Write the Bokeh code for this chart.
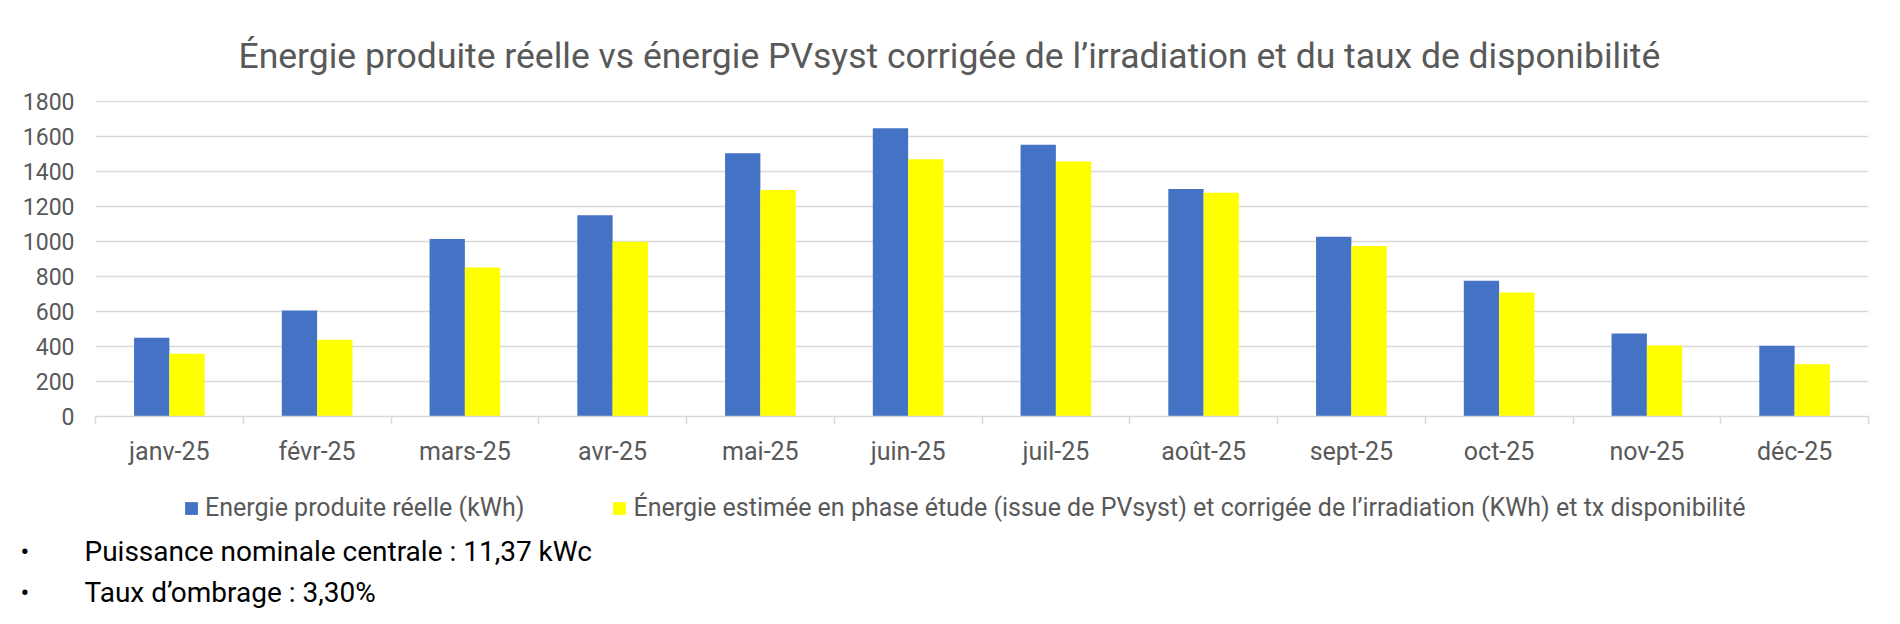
from bokeh.plotting import figure
from bokeh.layouts import column
from bokeh.models import (Range1d, FixedTicker, Legend, LegendItem, Title, Label,
                          ColumnDataSource)
from bokeh.transform import dodge
from bokeh.embed import file_html
from bokeh.resources import INLINE

months = ["janv-25", "févr-25", "mars-25", "avr-25", "mai-25", "juin-25",
          "juil-25", "août-25", "sept-25", "oct-25", "nov-25", "déc-25"]
reelle = [450, 606, 1014, 1150, 1504, 1647, 1553, 1300, 1028, 776, 474, 404]
estimee = [359, 438, 852, 999, 1294, 1470, 1458, 1279, 975, 708, 406, 298]
y_ticks = [0, 200, 400, 600, 800, 1000, 1200, 1400, 1600, 1800]

title_text = "Énergie produite réelle vs énergie PVsyst corrigée de l’irradiation et du taux de disponibilité"
label_reelle = "Energie produite réelle (kWh)"
label_estimee = "Énergie estimée en phase étude (issue de PVsyst) et corrigée de l’irradiation (KWh) et tx disponibilité"
notes = ["Puissance nominale centrale : 11,37 kWc", "Taux d’ombrage : 3,30%"]

FONT = "Roboto"
GREY = "#595959"
GRID = "#D9D9D9"
BLUE = "#4472C4"
YELLOW = "#FFFF00"

n = len(months)
centers = [i + 0.5 for i in range(n)]
bounds = list(range(n + 1))
src = ColumnDataSource(dict(pos=centers, month=months, reelle=reelle, estimee=estimee))

# ---------------- main chart ----------------
H1 = 468
p = figure(width=1884, height=H1, x_range=Range1d(0, n), y_range=Range1d(0, 1806),
           output_backend="svg", toolbar_location=None,
           min_border_left=95, min_border_right=16, min_border_top=100, min_border_bottom=50)
p.outline_line_color = None
p.background_fill_color = "white"
p.border_fill_color = "white"
p.xgrid.grid_line_color = None
p.ygrid.grid_line_color = GRID
p.ygrid.grid_line_width = 1.5
p.ygrid.ticker = FixedTicker(ticks=y_ticks)

yax = p.yaxis[0]
yax.ticker = FixedTicker(ticks=y_ticks)
yax.axis_line_color = None
yax.major_tick_line_color = None
yax.minor_tick_line_color = None
yax.major_tick_out = 0
yax.major_tick_in = 0
yax.major_label_standoff = 21
yax.major_label_text_font = FONT
yax.major_label_text_font_size = "23px"
yax.major_label_text_color = GREY

xax = p.xaxis[0]
xax.ticker = FixedTicker(ticks=centers, minor_ticks=bounds)
xax.major_label_overrides = {c: m for c, m in zip(centers, months)}
xax.axis_line_color = GRID
xax.axis_line_width = 1.5
xax.major_tick_line_color = None
xax.major_tick_out = 0
xax.major_tick_in = 0
xax.minor_tick_line_color = GRID
xax.minor_tick_line_width = 1.5
xax.minor_tick_out = 8
xax.minor_tick_in = 0
xax.major_label_standoff = 12
xax.major_label_text_font = FONT
xax.major_label_text_font_size = "25px"
xax.major_label_text_color = GREY

w = 0.239
p.vbar(x=dodge("pos", -w / 2), top="reelle", width=w, source=src,
       fill_color=BLUE, line_color=None)
p.vbar(x=dodge("pos", w / 2), top="estimee", width=w, source=src,
       fill_color=YELLOW, line_color=None)

p.title = Title(text=title_text, align="left", offset=143, text_font=FONT,
                text_font_size="35.5px", text_font_style="normal", text_color=GREY,
                standoff=47)

# ---------------- legend and notes ----------------
H2 = 608 - H1
q = figure(width=1884, height=H2, x_range=Range1d(0, 1884), y_range=Range1d(10000, 10000 + H2),
           output_backend="svg", toolbar_location=None,
           x_axis_location=None, y_axis_location=None,
           min_border_left=0, min_border_right=0, min_border_top=0, min_border_bottom=0)
q.outline_line_color = None
q.xgrid.grid_line_color = None
q.ygrid.grid_line_color = None
q.background_fill_color = "white"
q.border_fill_color = "white"
for fig in (p, q):
    if "frame_align" in fig.properties():
        fig.frame_align = False

# legend swatches: same series, drawn outside the visible range of this strip
s1 = q.vbar(x="pos", top="reelle", width=0.2, source=src, fill_color=BLUE, line_color=None)
s2 = q.vbar(x="pos", top="estimee", width=0.2, source=src, fill_color=YELLOW, line_color=None)

legend = Legend(items=[LegendItem(label=label_reelle, renderers=[s1]),
                       LegendItem(label=label_estimee, renderers=[s2])],
                location=(183, 86), orientation="horizontal", margin=0, padding=0,
                spacing=87, border_line_color=None, background_fill_alpha=0,
                glyph_width=16, glyph_height=16, label_standoff=6, label_height=16,
                label_text_font=FONT, label_text_font_size="25px",
                label_text_color=GREY, label_text_baseline="middle")
q.add_layout(legend, "center")

for yy, t in zip([57, 16], notes):
    q.add_layout(Label(x=20, y=yy, x_units="screen", y_units="screen", text="•",
                       text_align="left", text_baseline="middle", text_font=FONT,
                       text_font_size="26px", text_color="black"))
    q.add_layout(Label(x=84, y=yy, x_units="screen", y_units="screen", text=t,
                       text_align="left", text_baseline="middle", text_font=FONT,
                       text_font_size="28px", text_color="black"))

open("out.html", "w").write(file_html(column(p, q, spacing=0), INLINE))
